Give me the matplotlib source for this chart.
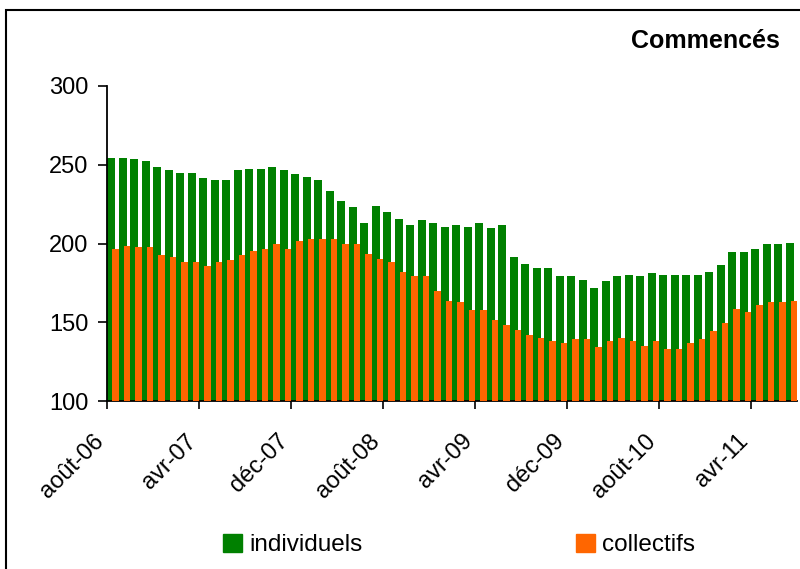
import matplotlib
matplotlib.use("Agg")
import matplotlib.pyplot as plt
import matplotlib.patches as mpatches
import matplotlib.transforms as mtransforms
import numpy as np

plt.rcParams['font.family'] = ['Liberation Sans', 'DejaVu Sans']

tick_labels = ["août-06", "avr-07", "déc-07", "août-08", "avr-09", "déc-09", "août-10", "avr-11"]

individuels = [254.6, 254.6, 253.5, 252.4, 248.6, 246.5, 244.6, 244.6, 241.4, 240.3,
               240.3, 246.5, 247.6, 247.6, 248.6, 246.5, 244.4, 242.3, 240.3, 233.3,
               227.0, 222.9, 212.7, 223.8, 219.9, 215.7, 211.7, 214.8, 212.7, 210.6,
               211.7, 210.6, 212.7, 209.6, 211.7, 191.3, 187.0, 184.3, 184.3, 179.2,
               179.2, 177.1, 172.0, 176.0, 179.2, 180.1, 179.2, 181.1, 180.1, 180.1,
               180.1, 180.1, 182.2, 186.2, 194.5, 194.5, 196.6, 199.6, 199.6, 200.4]

collectifs = [196.6, 198.5, 197.7, 197.7, 192.4, 191.5, 188.3, 188.3, 185.4, 188.3,
              189.4, 192.4, 195.5, 196.6, 199.6, 196.6, 201.7, 202.7, 202.7, 202.7,
              199.8, 199.8, 193.4, 190.2, 188.3, 182.2, 179.2, 179.2, 169.6, 163.7,
              162.6, 157.5, 157.5, 151.4, 148.2, 145.2, 142.2, 140.1, 138.2, 137.1,
              139.3, 139.3, 134.2, 138.2, 140.1, 138.2, 135.0, 138.2, 133.1, 133.1,
              137.1, 139.3, 144.2, 149.5, 158.6, 156.5, 160.7, 162.6, 162.6, 163.7]

green = "#008000"
orange = "#FF6600"

fig = plt.figure(figsize=(8, 5.69), dpi=100)
ax = fig.add_axes([107/800, 1-401/569, 690/800, (401-86)/569])

x = np.arange(len(individuels))
ax.bar(x + 0.37, individuels, width=0.66, color=green, edgecolor='none', zorder=2)
ax.bar(x + 0.735, collectifs, width=0.58, color=orange, edgecolor='none', zorder=3)

ax.set_xlim(0, 60)
ax.set_ylim(100, 300)
ax.set_yticks([100, 150, 200, 250, 300])
ax.tick_params(axis='y', direction='out', length=6.5, width=1.2, labelsize=17, pad=7)
ax.set_xticks(np.arange(0, 60, 8))
ax.set_xticklabels(tick_labels, rotation=45, ha='right', va='top', rotation_mode='anchor', fontsize=17)
ax.tick_params(axis='x', direction='out', length=6, width=1.2, pad=15)
offset = mtransforms.ScaledTranslation(-0.14, 0, fig.dpi_scale_trans)
for lbl in ax.get_xticklabels():
    lbl.set_transform(lbl.get_transform() + offset)
ax.spines['top'].set_visible(False)
ax.spines['right'].set_visible(False)
ax.spines['left'].set_linewidth(1.3)
ax.spines['bottom'].set_linewidth(1.3)

fig.text(780/800, 1-48.5/569, "Commencés", fontsize=18, fontweight='bold', ha='right', va='baseline')

handles = [mpatches.Patch(color=green, label="individuels"),
           mpatches.Patch(color=orange, label="collectifs")]
fig.legend(handles=handles, ncol=2, loc='center', bbox_to_anchor=(459/800, 1-545/569),
           frameon=False, fontsize=17.5, handlelength=0.78, handleheight=0.78, handletextpad=0.3,
           columnspacing=8.8, borderpad=0, borderaxespad=0)

border = mpatches.Rectangle((6/800, -0.05), 1.0, 1-10/569+0.05, transform=fig.transFigure,
                            fill=False, edgecolor='black', linewidth=1.5)
fig.patches.append(border)

fig.savefig("out.png", dpi=100)
